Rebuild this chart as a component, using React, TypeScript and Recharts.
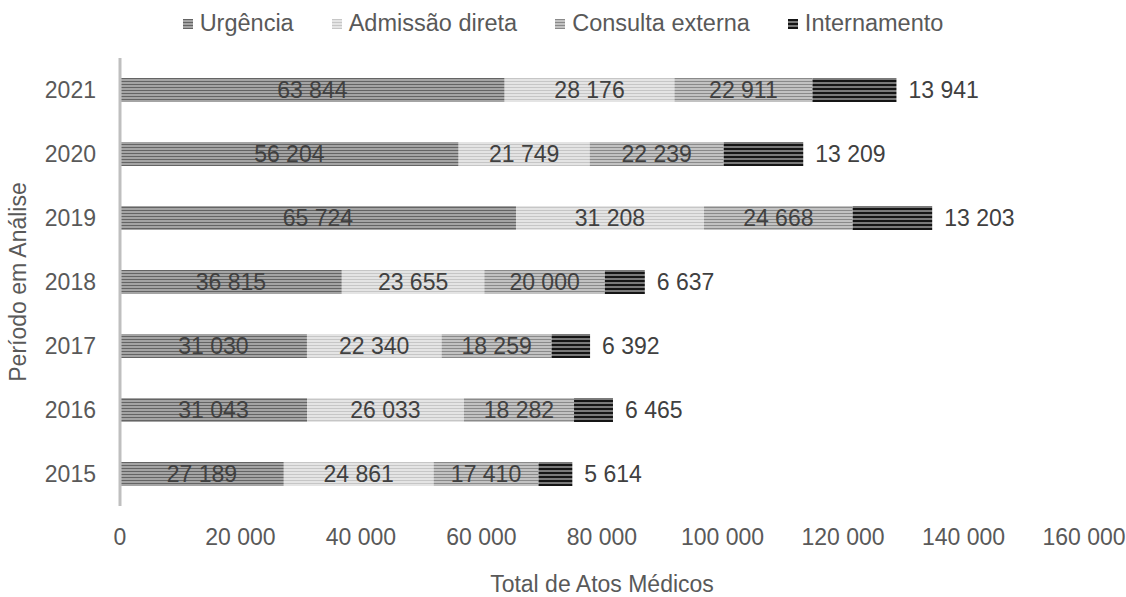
import { BarChart, Bar, XAxis, YAxis, Legend, LabelList } from "recharts";

// values
const years = ["2015", "2016", "2017", "2018", "2019", "2020", "2021"];
const urgencia = [27189, 31043, 31030, 36815, 65724, 56204, 63844];
const admissaoDireta = [24861, 26033, 22340, 23655, 31208, 21749, 28176];
const consultaExterna = [17410, 18282, 18259, 20000, 24668, 22239, 22911];
const internamento = [5614, 6465, 6392, 6637, 13203, 13209, 13941];
const xTicks = [0, 20000, 40000, 60000, 80000, 100000, 120000, 140000, 160000];

const data = years.map((year, i) => ({
  year,
  urgencia: urgencia[i],
  admissao: admissaoDireta[i],
  consulta: consultaExterna[i],
  internamento: internamento[i],
}));

const series = [
  { key: "urgencia", name: "Urgência", pattern: "pat-urg" },
  { key: "admissao", name: "Admissão direta", pattern: "pat-adm" },
  { key: "consulta", name: "Consulta externa", pattern: "pat-con" },
  { key: "internamento", name: "Internamento", pattern: "pat-int" },
];

const FONT = "'Liberation Sans', Arial, sans-serif";
const TEXT = "#595959";
const SIZE = 23;

// "63 844" style thousands separator
const fmt = (v: any) => String(v).replace(/\B(?=(\d{3})+(?!\d))/g, " ");

const renderLegend = () => (
  <div
    style={{
      display: "flex",
      justifyContent: "center",
      gap: 38,
      fontFamily: FONT,
      fontSize: 23.5,
      lineHeight: "27px",
      color: TEXT,
    }}
  >
    {series.map((s) => (
      <span key={s.key} style={{ display: "flex", alignItems: "center" }}>
        <svg width={10} height={10} style={{ marginRight: 7 }}>
          <rect width={10} height={10} fill={`url(#${s.pattern})`} />
        </svg>
        {s.name}
      </span>
    ))}
  </div>
);

const renderYTitle = (props: any) => {
  const vb = props.viewBox || {};
  const cy = vb.y + vb.height / 2;
  return (
    <text
      x={18}
      y={cy}
      transform={`rotate(-90, 18, ${cy})`}
      textAnchor="middle"
      dominantBaseline="central"
      fill={TEXT}
      fontSize={SIZE}
      fontFamily={FONT}
    >
      Período em Análise
    </text>
  );
};

export default function App() {
  return (
    <div style={{ position: "absolute", left: 0, top: 0, background: "#fff" }}>
      <BarChart
        width={1126}
        height={597}
        data={data}
        layout="vertical"
        margin={{ top: 31, right: 42, bottom: 0, left: 0 }}
      >
        <defs>
          <pattern id="pat-urg" patternUnits="userSpaceOnUse" width={4} height={3}>
            <rect width={4} height={3} fill="#a4a4a4" />
            <rect width={4} height={1} fill="#646464" />
          </pattern>
          <pattern id="pat-adm" patternUnits="userSpaceOnUse" width={4} height={3}>
            <rect width={4} height={3} fill="#e4e4e4" />
            <rect width={4} height={1} fill="#c6c6c6" />
          </pattern>
          <pattern id="pat-con" patternUnits="userSpaceOnUse" width={4} height={3}>
            <rect width={4} height={3} fill="#c2c2c2" />
            <rect width={4} height={1} fill="#8a8a8a" />
          </pattern>
          <pattern id="pat-int" patternUnits="userSpaceOnUse" width={4} height={4}>
            <rect width={4} height={4} fill="#7a7a7a" />
            <rect width={4} height={2} fill="#151515" />
          </pattern>
        </defs>
        <Legend verticalAlign="top" content={renderLegend} wrapperStyle={{ left: 0, width: 1126, top: 10 }} />
        <XAxis
          type="number"
          domain={[0, 160000]}
          ticks={xTicks}
          tickFormatter={fmt}
          axisLine={false}
          tickLine={false}
          tickMargin={17}
          tick={{ fill: TEXT, fontSize: SIZE, fontFamily: FONT }}
          height={91}
          label={{
            value: "Total de Atos Médicos",
            position: "insideBottom",
            offset: 5,
            fill: TEXT,
            fontSize: SIZE,
            fontFamily: FONT,
          }}
        />
        <YAxis
          type="category"
          dataKey="year"
          reversed
          width={120}
          axisLine={{ stroke: "#bfbfbf", strokeWidth: 3 }}
          tickLine={false}
          tickMargin={18}
          tick={{ fill: TEXT, fontSize: SIZE, fontFamily: FONT }}
          label={{ content: renderYTitle }}
        />
        {series.map((s, idx) => (
          <Bar
            key={s.key}
            dataKey={s.key}
            name={s.name}
            stackId="total"
            fill={`url(#${s.pattern})`}
            barSize={24}
            isAnimationActive={false}
          >
            <LabelList
              dataKey={s.key}
              position={idx === 3 ? "right" : "center"}
              offset={12}
              formatter={fmt}
              fill="#404040"
              fontSize={SIZE}
              fontFamily={FONT}
            />
          </Bar>
        ))}
      </BarChart>
    </div>
  );
}
